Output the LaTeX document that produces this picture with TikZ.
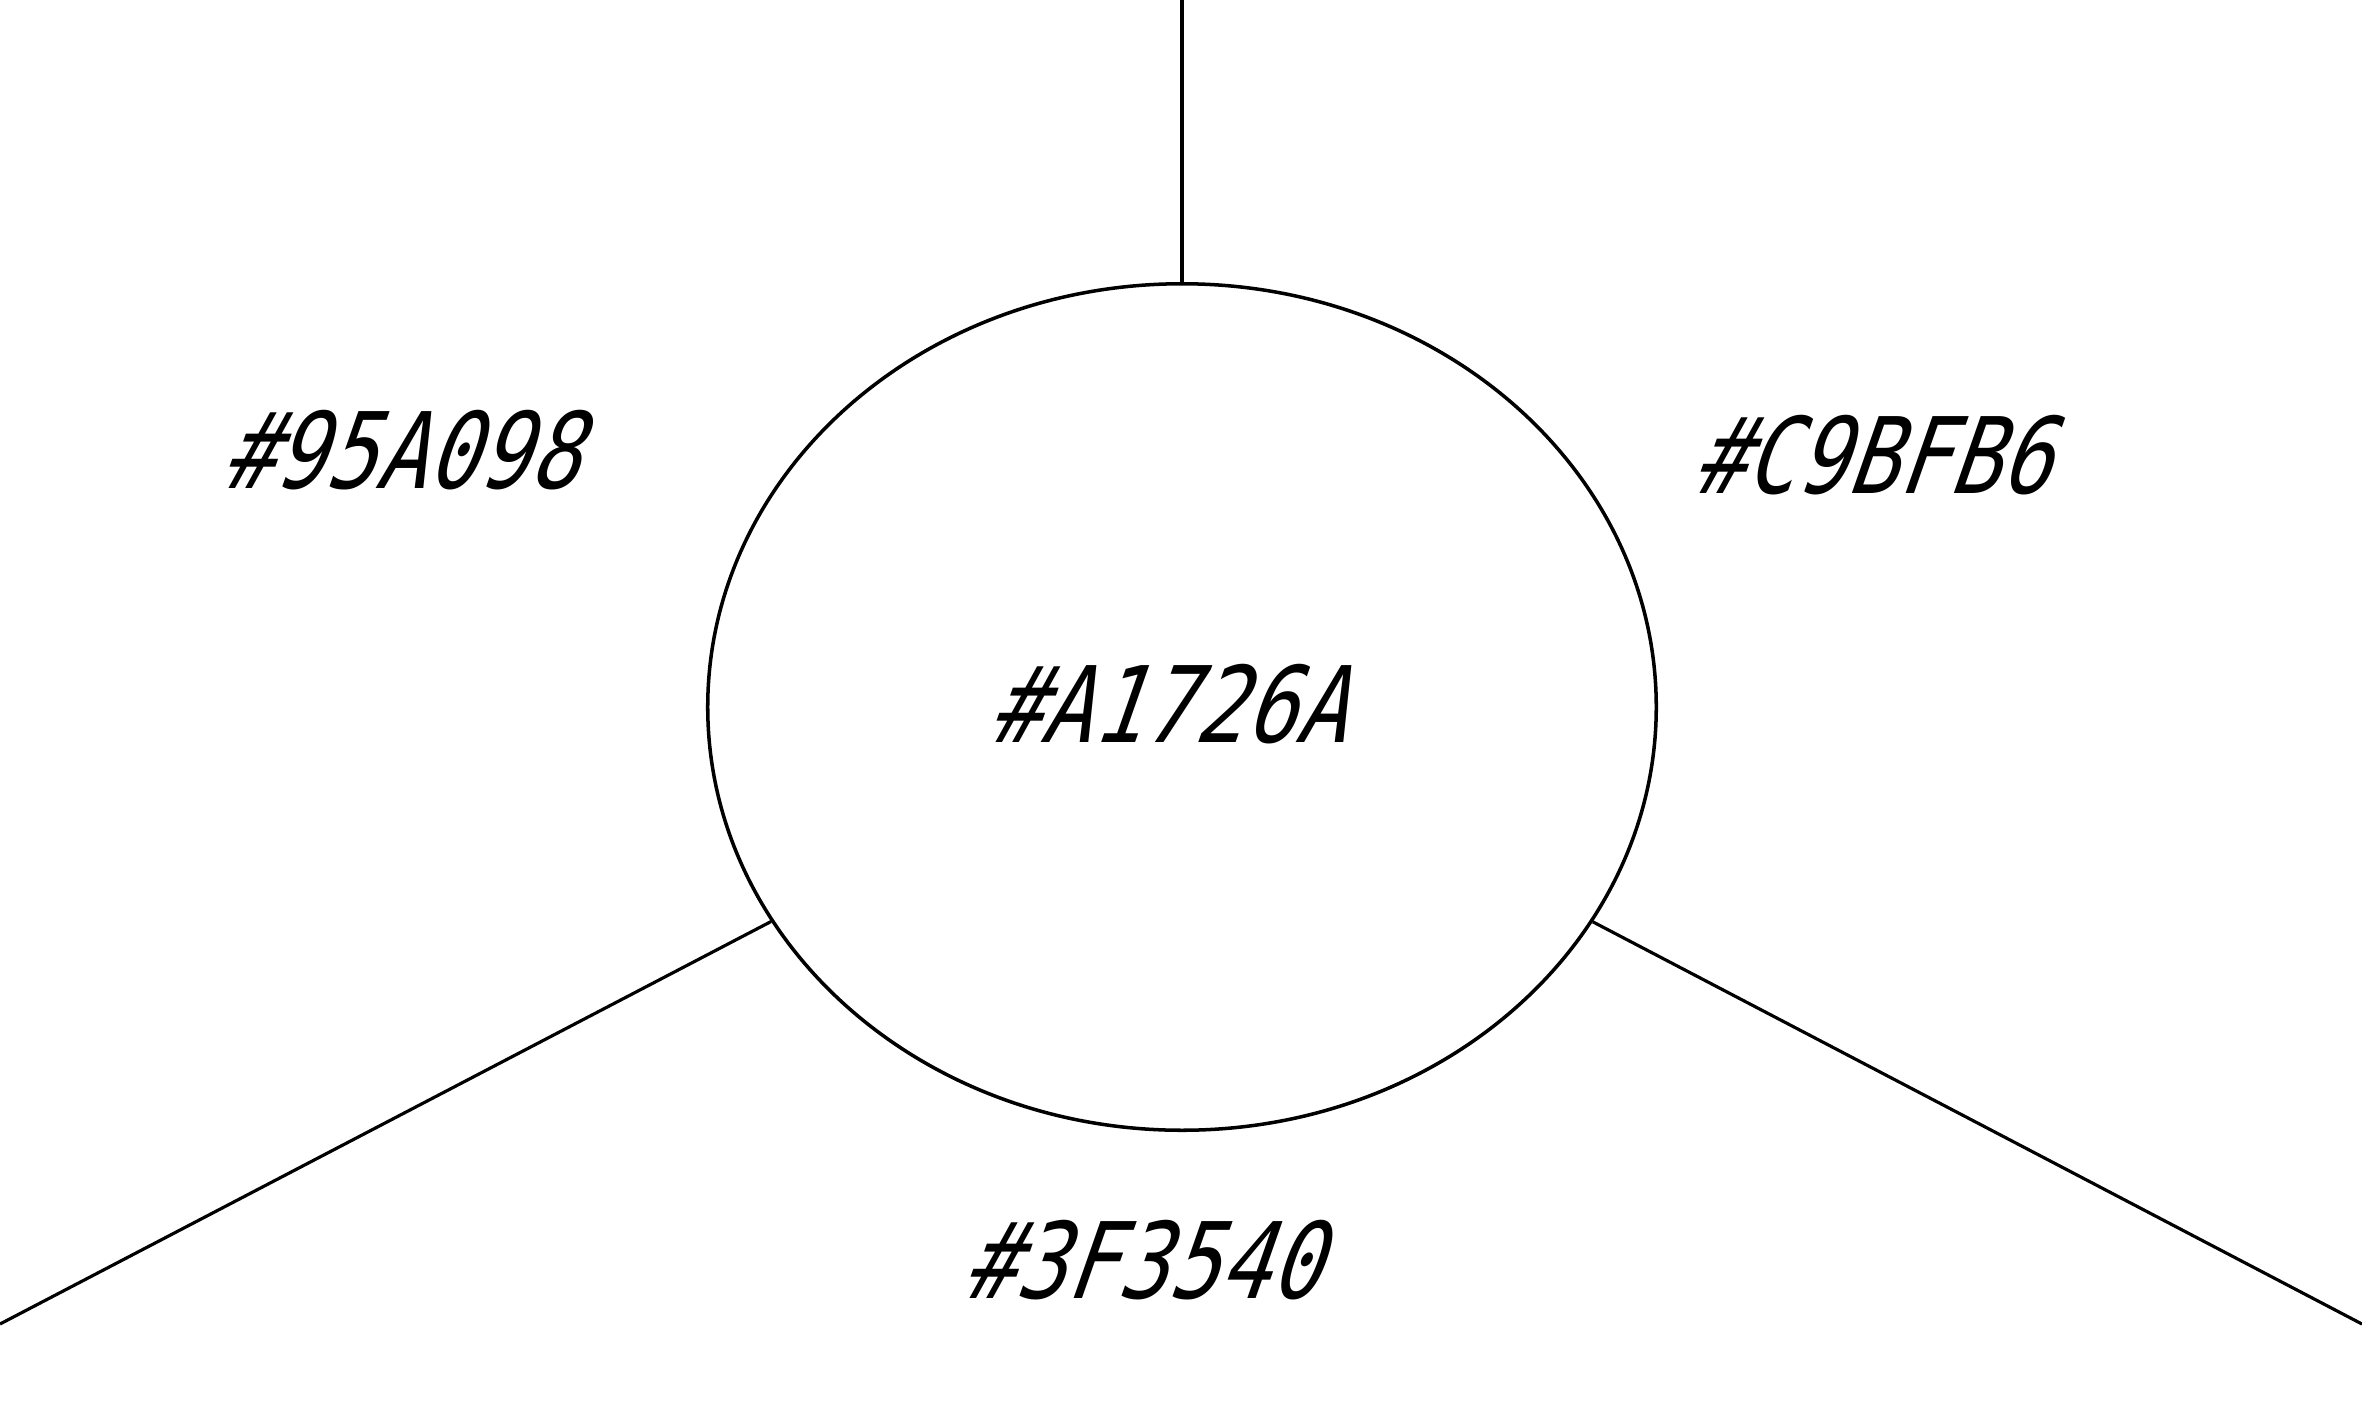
\documentclass[tikz,border=0pt]{standalone}
\usepackage{fontspec}
\usepackage{tikz}
\usetikzlibrary{shapes.geometric}
\newfontfamily\hexfont[FakeStretch=0.8,FakeSlant=0.35]{DejaVu Sans Mono}
\tikzset{
	hexlabel/.style={inner sep=0pt,font=\hexfont\fontsize{30}{32}\selectfont},
	hub/.style={ellipse,draw,line width=1pt,minimum width=9.48cm,minimum height=8.46cm,inner sep=0pt},
	spoke/.style={line width=0.9pt}
}
\begin{document}
\begin{tikzpicture}[x=0.01cm,y=-0.01cm]
		\useasboundingbox (0,0) rectangle (2362,1417);
		
		\node[hub,label={[hexlabel,xshift=-0.15cm,yshift=0.03cm]center:\#A1726A}] (centre) at (1182,707) {};
		
		\coordinate (topend) at (1182,0);
		\coordinate (leftend) at (0,1324);
		\coordinate (rightend) at (2362,1324);
		
		\draw[spoke] (centre.north) -- (topend);
		\draw[spoke] (centre) -- (leftend);
		\draw[spoke] (centre) -- (rightend);
		
		\node[hexlabel] (upleft) at (400,450) {\#95A098};
		\node[hexlabel] (upright) at (1871,455) {\#C9BFB6};
		\node[hexlabel] (below) at (1141,1260) {\#3F3540};
	\end{tikzpicture}
\end{document}
